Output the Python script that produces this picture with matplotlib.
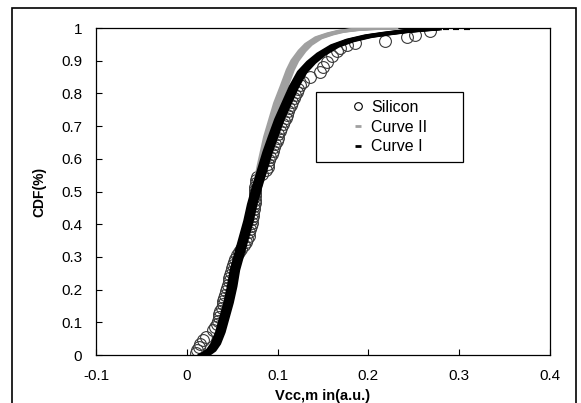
import matplotlib
matplotlib.use('Agg')
import matplotlib.pyplot as plt
from matplotlib.lines import Line2D
from matplotlib.patches import Rectangle
from matplotlib.transforms import offset_copy

plt.rcParams['font.family'] = ['Liberation Sans', 'DejaVu Sans']
plt.rcParams['font.size'] = 11

si_x = [0.010, 0.011, 0.013, 0.015, 0.018, 0.021, 0.029, 0.031, 0.033, 0.034,
        0.035, 0.036, 0.037, 0.039, 0.040, 0.040, 0.041, 0.042, 0.043, 0.044,
        0.045, 0.046, 0.047, 0.048, 0.049, 0.050, 0.051, 0.052, 0.053, 0.055,
        0.057, 0.060, 0.063, 0.065, 0.066, 0.068, 0.069, 0.070, 0.071, 0.072,
        0.072, 0.073, 0.073, 0.074, 0.074, 0.075, 0.075, 0.075, 0.075, 0.075,
        0.075, 0.076, 0.076, 0.077, 0.083, 0.087, 0.089, 0.090, 0.091, 0.092,
        0.094, 0.095, 0.096, 0.097, 0.099, 0.100, 0.101, 0.103, 0.104, 0.106,
        0.107, 0.109, 0.110, 0.112, 0.113, 0.115, 0.116, 0.118, 0.119, 0.121,
        0.123, 0.125, 0.128, 0.136, 0.147, 0.150, 0.154, 0.160, 0.165, 0.169,
        0.176, 0.185, 0.218, 0.242, 0.251, 0.268]
si_y = [0.005, 0.015, 0.025, 0.035, 0.045, 0.055, 0.075, 0.085, 0.095, 0.105,
        0.115, 0.125, 0.135, 0.145, 0.155, 0.165, 0.175, 0.185, 0.195, 0.205,
        0.215, 0.225, 0.235, 0.245, 0.255, 0.265, 0.275, 0.285, 0.295, 0.305,
        0.315, 0.325, 0.335, 0.345, 0.355, 0.365, 0.375, 0.385, 0.395, 0.405,
        0.415, 0.425, 0.435, 0.445, 0.455, 0.465, 0.475, 0.485, 0.495, 0.505,
        0.515, 0.525, 0.535, 0.545, 0.555, 0.565, 0.575, 0.585, 0.595, 0.605,
        0.615, 0.625, 0.635, 0.645, 0.655, 0.665, 0.675, 0.685, 0.695, 0.705,
        0.715, 0.725, 0.735, 0.745, 0.755, 0.765, 0.775, 0.785, 0.795, 0.805,
        0.815, 0.825, 0.835, 0.850, 0.865, 0.880, 0.895, 0.915, 0.930, 0.940,
        0.948, 0.955, 0.960, 0.972, 0.980, 0.990]

# Curve I (black)
c1_x = [0.018, 0.022, 0.027, 0.032, 0.037, 0.041, 0.046, 0.050, 0.053, 0.058,
        0.063, 0.068, 0.072, 0.077, 0.083, 0.089, 0.095, 0.102, 0.110, 0.118,
        0.127, 0.137, 0.148, 0.163, 0.180, 0.200, 0.220, 0.240, 0.260, 0.275]
c1_y = [0.000, 0.005, 0.015, 0.035, 0.070, 0.110, 0.160, 0.210, 0.260, 0.310,
        0.360, 0.410, 0.460, 0.510, 0.565, 0.620, 0.667, 0.720, 0.770, 0.820,
        0.865, 0.895, 0.920, 0.945, 0.962, 0.975, 0.983, 0.990, 0.995, 0.998]
c1_tail_x = [0.285, 0.297, 0.309]
c1_tail_y = [1.0, 1.0, 1.0]

# Curve II (gray)
c2_x = [0.018, 0.022, 0.027, 0.032, 0.037, 0.041, 0.046, 0.050, 0.053, 0.058,
        0.063, 0.068, 0.072, 0.077, 0.082, 0.089, 0.100, 0.107, 0.114, 0.119,
        0.127, 0.134, 0.145, 0.158, 0.170, 0.185, 0.200, 0.228]
c2_y = [0.000, 0.005, 0.015, 0.035, 0.070, 0.110, 0.160, 0.210, 0.260, 0.310,
        0.360, 0.410, 0.460, 0.510, 0.580, 0.667, 0.770, 0.820, 0.872, 0.900,
        0.930, 0.950, 0.970, 0.982, 0.990, 0.995, 0.998, 1.000]

xticks = [-0.1, 0, 0.1, 0.2, 0.3, 0.4]
xtick_labels = ['-0.1', '0', '0.1', '0.2', '0.3', '0.4']
yticks = [0, 0.1, 0.2, 0.3, 0.4, 0.5, 0.6, 0.7, 0.8, 0.9, 1]
ytick_labels = ['0', '0.1', '0.2', '0.3', '0.4', '0.5', '0.6', '0.7', '0.8', '0.9', '1']

gray = '#a0a0a0'

fig = plt.figure(figsize=(5.81, 4.03), dpi=100)
ax = fig.add_axes([0.1652, 0.1191, 0.7814, 0.8114])

ax.plot(si_x, si_y, ls='none', marker='o', ms=8.5, mfc='none', mec='#3a3a3a',
        mew=0.8, zorder=2)

# the curves look like dense horizontal dashes: wide when steep, thin when flat
for dx in (-3, -1.5, 0, 1.5, 3):
    tr = offset_copy(ax.transData, fig=fig, x=dx, y=0, units='dots')
    ax.plot(c2_x, c2_y, color=gray, lw=2.2, transform=tr, zorder=3)
for dx in (-3.5, -1.75, 0, 1.75, 3.5):
    tr = offset_copy(ax.transData, fig=fig, x=dx, y=0, units='dots')
    ax.plot(c1_x, c1_y, color='black', lw=2.6, transform=tr, zorder=4)
ax.plot(c1_tail_x, c1_tail_y, ls='none', marker='_', ms=5, mew=3,
        color='black', zorder=4)

ax.set_xlim(-0.1, 0.4)
ax.set_ylim(0, 1)
ax.set_xticks(xticks)
ax.set_xticklabels(xtick_labels)
ax.set_yticks(yticks)
ax.set_yticklabels(ytick_labels)
ax.tick_params(direction='in', length=4, width=0.8, pad=10, labelsize=11)
for s in ax.spines.values():
    s.set_linewidth(0.9)
    s.set_color('black')

ax.set_xlabel('Vcc,m in(a.u.)', fontsize=10.5, fontweight='bold')
ax.set_ylabel('CDF(%)', fontsize=10, fontweight='bold')
ax.xaxis.set_label_coords(0.5, -0.105)
ax.yaxis.set_label_coords(-0.11, 0.5)

# legend box
box = Rectangle((0.485, 0.590), 0.324, 0.214, transform=ax.transAxes,
                fill=True, facecolor='white', edgecolor='black', lw=0.9,
                zorder=5)
ax.add_patch(box)
handles = [
    Line2D([], [], ls='none', marker='o', ms=5.5, mfc='none', mec='black', mew=0.8),
    Line2D([], [], ls='none', marker='_', ms=4, mew=2, color=gray),
    Line2D([], [], ls='none', marker='_', ms=4, mew=2, color='black'),
]
leg = ax.legend(handles, ['Silicon', 'Curve II', 'Curve I'], frameon=False,
                loc='center', bbox_to_anchor=(0.647, 0.697), fontsize=11.5,
                handlelength=0.8, handletextpad=0.4, labelspacing=0.3,
                borderpad=0)
leg.set_zorder(6)

# outer frame
fig.add_artist(Rectangle((12 / 581, -0.05), 564 / 581, 0.98 + 0.05,
                         transform=fig.transFigure, fill=False,
                         edgecolor='black', lw=1.2, clip_on=False))

fig.savefig('out.png', dpi=100)
